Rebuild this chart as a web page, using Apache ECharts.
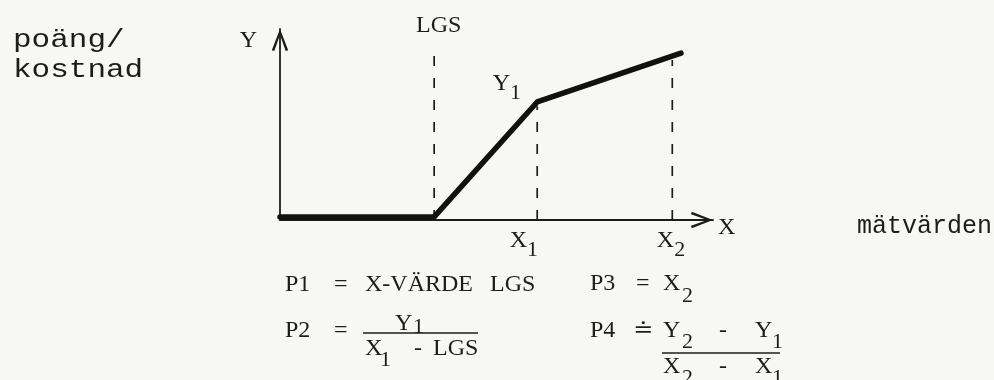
<!DOCTYPE html>
<html>
<head>
<meta charset="utf-8">
<script src="https://cdn.jsdelivr.net/npm/echarts@6/dist/echarts.min.js"></script>
<style>
  html, body { margin: 0; padding: 0; background: #f7f7f5; }
  #chart { width: 994px; height: 380px; }
</style>
</head>
<body>
<div id="chart"></div>
<script>
// Breakpoints of the piecewise-linear score function (axis units 0-100)
const knotNames = ['', 'LGS', 'X1', 'X2'];
const knotX = [0, 35.6, 59.4, 92.6];
const knotY = [1.6, 1.6, 61.8, 87.4];
// Dashed guides: position on X and upper end on Y
const guideNames = ['LGS', 'X1', 'X2'];
const guideX = [35.6, 59.4, 90.6];
const guideTop = [86.4, 59.5, 83.8];

const SERIF = "'Liberation Serif', 'DejaVu Serif', serif";
const MONO = "'Liberation Mono', 'DejaVu Sans Mono', monospace";
const INK = '#1c1c1c';

// main glyphs and lowered indices
const rich = {
  m: { fontFamily: SERIF, fontSize: 24, color: INK, lineHeight: 24 },
  s: { fontFamily: SERIF, fontSize: 22, color: INK, lineHeight: 24, padding: [20, 0, 0, 0] }
};

// Open chevron used as the axis arrow head (points up, rotated by the axis)
const chevron = 'path://M0,22 L8.5,0 L17,22 L14.4,22.8 L8.5,6 L2.6,22.8 Z';

const curve = knotX.map((x, i) => {
  const item = { value: [x, knotY[i]] };
  if (knotNames[i] === 'X1') {
    item.label = {
      show: true, position: [-44, -18], align: 'left', verticalAlign: 'middle',
      formatter: '{m|Y}{s|1}', rich: rich
    };
  }
  return item;
});

const guideSeries = guideX.map((x, i) => {
  const name = guideNames[i];
  const bottom = { value: [x, 0] };
  const top = { value: [x, guideTop[i]] };
  if (name === 'LGS') {
    top.label = {
      show: true, position: [5, -29], align: 'center', verticalAlign: 'middle',
      formatter: '{m|LGS}', rich: rich
    };
  } else {
    bottom.label = {
      show: true, position: [name === 'X1' ? -27 : -15, 21], align: 'left', verticalAlign: 'middle',
      formatter: '{m|X}{s|' + name.slice(1) + '}', rich: rich
    };
  }
  return {
    type: 'line',
    name: name,
    data: [bottom, top],
    symbol: 'circle',
    symbolSize: 1,
    itemStyle: { color: 'transparent' },
    lineStyle: { color: INK, width: 1.7, type: [10, 12] },
    silent: true,
    z: 1
  };
});

// Formula block under the chart: [text, left, middle, isIndex]
const formula = [
  ['P1', 285, 284.5], ['=', 334, 284.5], ['X-VÄRDE', 365, 284.5], ['LGS', 490, 284.5],
  ['P3', 590, 283.5], ['=', 636, 283.5], ['X', 663, 283.5], ['2', 682, 296, true],

  ['P2', 285, 331], ['=', 334, 331],
  ['Y', 395, 324], ['1', 413, 327, true],
  ['X', 365, 349], ['1', 380, 360, true], ['-', 414, 349], ['LGS', 433, 349],

  ['P4', 590, 331], ['≐', 633, 331],
  ['Y', 663, 331], ['2', 682, 342, true], ['-', 719, 331], ['Y', 755, 331], ['1', 772, 342, true],
  ['X', 663, 367], ['2', 682, 378, true], ['-', 719, 367], ['X', 755, 367], ['1', 772, 378, true]
];
// fraction bars [x1, x2, y]
const bars = [[363, 478, 333], [662, 780, 353]];

// typewritten captions: wide pitch, so the mono face is stretched horizontally
const typed = (txt, x, y, size, stretch) => ({
  type: 'text', x: x, y: y, scaleX: stretch,
  style: { text: txt, font: size + 'px ' + MONO, fill: INK, verticalAlign: 'middle' }
});

const graphics = [
  typed('poäng/', 13, 40.5, 25, 1.24),
  typed('kostnad', 13, 70.5, 25, 1.24),
  typed('mätvärden', 857, 226, 25, 1)
];
formula.forEach(([txt, x, y, isIndex]) => {
  graphics.push({
    type: 'text', x: x, y: y,
    style: {
      text: txt, fill: INK, align: 'left', verticalAlign: 'middle',
      font: (isIndex ? '22px ' : '24px ') + SERIF
    }
  });
});
bars.forEach(([x1, x2, y]) => {
  graphics.push({ type: 'line', shape: { x1: x1, y1: y, x2: x2, y2: y }, style: { stroke: INK, lineWidth: 1.7 } });
});

const axisCommon = {
  type: 'value', min: 0, max: 100,
  axisTick: { show: false }, axisLabel: { show: false }, splitLine: { show: false }
};

const chart = echarts.init(document.getElementById('chart'), null, { renderer: 'canvas' });
chart.setOption({
  backgroundColor: '#f7f7f5',
  animation: false,
  grid: { left: 280, right: 281, top: 29, bottom: 160 },
  xAxis: Object.assign({}, axisCommon, {
    name: 'X', nameGap: 5,
    nameTextStyle: { fontFamily: SERIF, fontSize: 24, color: INK, align: 'left', verticalAlign: 'top', padding: [-4, 0, 0, 0] },
    axisLine: { lineStyle: { color: INK, width: 1.8 }, symbol: ['none', chevron], symbolSize: [17, 22], symbolOffset: [0, -11] }
  }),
  yAxis: Object.assign({}, axisCommon, {
    name: 'Y', nameGap: 0,
    nameTextStyle: { fontFamily: SERIF, fontSize: 24, color: INK, align: 'right', verticalAlign: 'top', padding: [0, 23, 0, 0] },
    axisLine: { lineStyle: { color: INK, width: 1.8 }, symbol: ['none', chevron], symbolSize: [17, 22], symbolOffset: [0, -11] }
  }),
  series: [
    {
      type: 'line',
      name: 'poäng',
      data: curve,
      symbol: 'circle',
      symbolSize: 1,
      itemStyle: { color: 'transparent' },
      lineStyle: { color: '#111', width: 5.5, cap: 'round', join: 'round' },
      z: 3
    }
  ].concat(guideSeries),
  graphic: graphics
});
</script>
</body>
</html>
